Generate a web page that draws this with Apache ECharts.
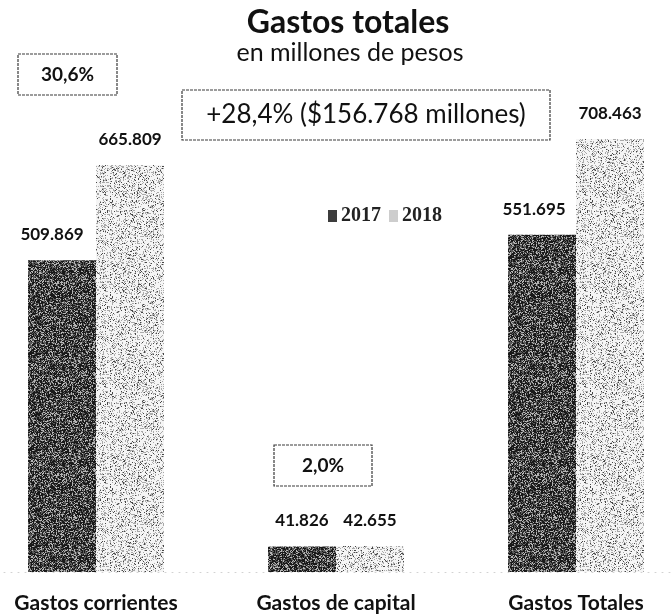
<!DOCTYPE html>
<html>
<head>
<meta charset="utf-8">
<script src="https://cdn.jsdelivr.net/npm/echarts@6/dist/echarts.min.js"></script>
<style>
  html, body { margin: 0; padding: 0; background: #ffffff; }
  #chart { width: 672px; height: 614px; }
</style>
</head>
<body>
<div id="chart"></div>
<script>
// Gastos por tipo, en millones de pesos
const categories = ['Gastos corrientes', 'Gastos de capital', 'Gastos Totales'];
const years = ['2017', '2018'];
const gastos2017 = [509869, 41826, 551695];
const gastos2018 = [665809, 42655, 708463];

// thousands separator with a dot, decimal comma
function fmt(n) {
  return String(n).replace(/\B(?=(\d{3})+(?!\d))/g, '.');
}
function pct(a, b) {
  return ((b / a - 1) * 100).toFixed(1).replace('.', ',') + '%';
}

// grainy fill used for the bars (deterministic hash noise)
function hash(x, y, s) {
  let h = (x * 374761393 + y * 668265263 + s * 2147483647) | 0;
  h = (h ^ (h >>> 13)) * 1274126177 | 0;
  h = h ^ (h >>> 16);
  return ((h >>> 0) % 1000) / 1000;
}
function grain(levels, seed) {
  const size = 96;
  const c = document.createElement('canvas');
  c.width = size; c.height = size;
  const ctx = c.getContext('2d');
  const img = ctx.createImageData(size, size);
  for (let y = 0; y < size; y++) {
    for (let x = 0; x < size; x++) {
      const r = hash(x, y, seed);
      let v = levels[levels.length - 1][1];
      for (let i = 0; i < levels.length; i++) {
        if (r < levels[i][0]) { v = levels[i][1]; break; }
      }
      const k = (y * size + x) * 4;
      img.data[k] = v; img.data[k + 1] = v; img.data[k + 2] = v; img.data[k + 3] = 255;
    }
  }
  ctx.putImageData(img, 0, 0);
  return c;
}
const darkFill = { image: grain([[0.48, 25], [0.78, 90], [1, 180]], 7), repeat: 'repeat' };
const lightFill = { image: grain([[0.07, 70], [0.3, 170], [1, 245]], 13), repeat: 'repeat' };

const labelFont = { fontFamily: 'Lato', fontWeight: 'bold', fontSize: 17, color: '#111' };
const offsets2017 = [[-10, 0], [0, 0], [-8, 0]];

const chart = echarts.init(document.getElementById('chart'), null, { renderer: 'canvas' });

function box(x, y, w, h, text, font) {
  return {
    type: 'group',
    children: [
      { type: 'rect', shape: { x: x, y: y, width: w, height: h },
        style: { fill: '#fff', stroke: '#3a3a3a', lineWidth: 1.2, lineDash: [3, 1] } },
      { type: 'text', x: x + w / 2, y: y + h / 2,
        style: Object.assign({ text: text, align: 'center', verticalAlign: 'middle', fill: '#111' }, font) }
    ]
  };
}

chart.setOption({
  animation: false,
  backgroundColor: '#ffffff',
  grid: { left: -24, width: 720, top: 83, height: 489, outerBoundsMode: 'none', containLabel: false },
  legend: {
    left: 323, top: 201,
    itemWidth: 9, itemHeight: 12, itemGap: 8,
    icon: 'rect',
    textStyle: { fontFamily: 'Liberation Serif', fontWeight: 'bold', fontSize: 20, color: '#222', padding: [0, 0, 0, -1] },
    data: [
      { name: years[0], itemStyle: { color: '#3c3c3c' } },
      { name: years[1], itemStyle: { color: '#cdcdcd' } }
    ]
  },
  xAxis: {
    type: 'category',
    data: categories,
    axisTick: { show: false },
    axisLine: { show: true, lineStyle: { color: '#d2d2d2', type: [1, 6], width: 1 } },
    axisLabel: { margin: 21, fontFamily: 'Lato', fontWeight: 'bold', fontSize: 21, color: '#111' }
  },
  yAxis: { type: 'value', min: 0, max: 800000, show: false, splitLine: { show: false } },
  series: [
    {
      name: years[0], type: 'bar', barWidth: 68, barGap: '0%',
      itemStyle: { color: darkFill },
      label: { show: true, position: 'top', distance: 17, formatter: p => fmt(p.value) },
      data: gastos2017.map((v, i) => ({ value: v, label: Object.assign({ offset: offsets2017[i] }, labelFont) }))
    },
    {
      name: years[1], type: 'bar', barWidth: 68, barGap: '0%',
      itemStyle: { color: lightFill },
      label: Object.assign({ show: true, position: 'top', distance: 17, formatter: p => fmt(p.value) }, labelFont),
      data: gastos2018
    }
  ],
  graphic: [
    { type: 'text', x: 348, y: 23,
      style: { text: 'Gastos totales', align: 'center', verticalAlign: 'middle',
               fontFamily: 'Lato', fontWeight: 'bold', fontSize: 32, fill: '#111' } },
    { type: 'text', x: 350, y: 53,
      style: { text: 'en millones de pesos', align: 'center', verticalAlign: 'middle',
               fontFamily: 'Lato', fontSize: 25, fill: '#111' } },
    box(18, 54, 99, 41, pct(gastos2017[0], gastos2018[0]),
        { fontFamily: 'Lato', fontWeight: 'bold', fontSize: 19 }),
    box(182, 90, 368, 50,
        '+' + pct(gastos2017[2], gastos2018[2]) + ' ($' + fmt(gastos2018[2] - gastos2017[2]) + ' millones)',
        { fontFamily: 'Lato', fontSize: 26 }),
    box(274, 445, 98, 41, pct(gastos2017[1], gastos2018[1]),
        { fontFamily: 'Lato', fontWeight: 'bold', fontSize: 19 })
  ]
});
</script>
</body>
</html>
